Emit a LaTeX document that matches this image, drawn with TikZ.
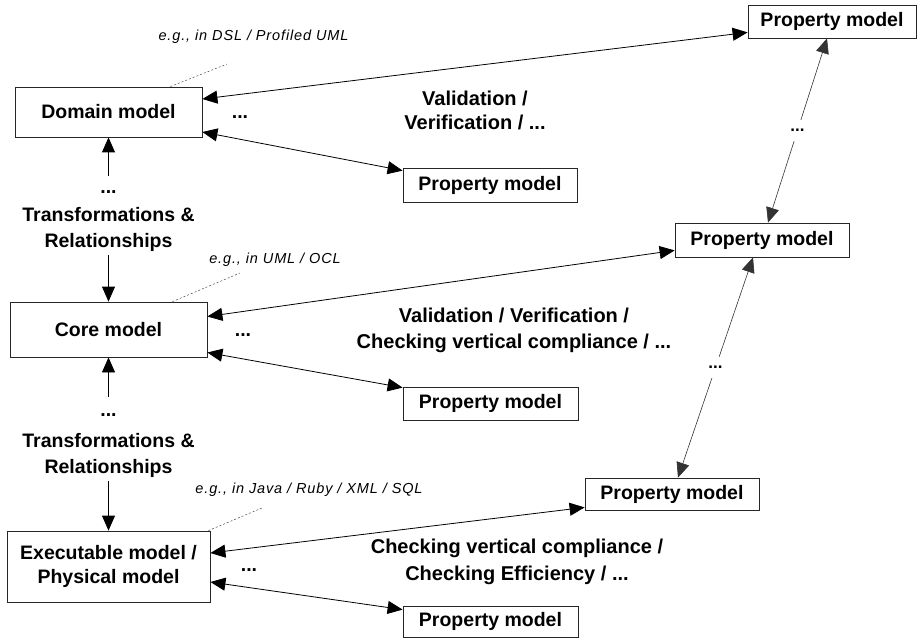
\documentclass[tikz,border=0pt]{standalone}
\usepackage{fontspec}
\setmainfont{Liberation Sans}
\usetikzlibrary{arrows.meta,calc}
\tikzset{
  box/.style={draw=black!85, line width=0.8pt, fill=white, align=center, inner sep=0pt,
    font=\fontsize{19.5}{25}\selectfont\bfseries},
  lbl/.style={align=center, inner sep=0pt, font=\fontsize{19.5}{26}\selectfont\bfseries},
  note/.style={inner sep=0pt, font=\fontsize{14.5}{17}\selectfont\itshape\addfontfeature{LetterSpace=6}},
  tip/.tip={Triangle[length=15pt,width=13pt]},
  conn/.style={line width=0.8pt, tip-tip},
  vconn/.style={line width=0.6pt, draw=black!80, tip-tip},
  single/.style={line width=0.8pt, -tip},
  leader/.style={draw=black!70, line width=0.5pt, dash pattern=on 2pt off 2pt},
  gapdots/.style={fill=white, inner xsep=2pt, inner ysep=9pt, font=\fontsize{17}{20}\selectfont\bfseries}
}
\begin{document}
\begin{tikzpicture}[x=1pt,y=-1pt]
\useasboundingbox[fill=white] (0,0) rectangle (918,639);

% model boxes
\node[box, minimum width=187pt, minimum height=50pt] (dom) at (108.5,112) {Domain model};
\node[box, minimum width=197pt, minimum height=55pt] (core) at (108.5,329.5) {Core model};
\node[box, minimum width=203pt, minimum height=71pt] (exec) at (108.5,566.5) {Executable model /\\[-1pt]Physical model};

% property models
\node[box, minimum width=168pt, minimum height=33pt] (pm1) at (832,21.5) {Property model};
\node[box, minimum width=174pt, minimum height=34pt] (pm2) at (490,185) {Property model};
\node[box, minimum width=174pt, minimum height=34pt] (pm3) at (762,240) {Property model};
\node[box, minimum width=175pt, minimum height=33pt] (pm4) at (490.5,403.5) {Property model};
\node[box, minimum width=174pt, minimum height=32pt] (pm5) at (672,494) {Property model};
\node[box, minimum width=175pt, minimum height=31pt] (pm6) at (490.5,621.5) {Property model};

% left transformation labels
\node[lbl] (d1) at (108.5,192) {...};
\node[lbl] (t1) at (108.5,229) {Transformations \&\\Relationships};
\node[lbl] (d2) at (108.5,415) {...};
\node[lbl] (t2) at (108.5,455) {Transformations \&\\Relationships};

\draw[single] ([yshift=14pt]d1.north) -- (dom.south);
\draw[single] ([yshift=-4pt]t1.south) -- (core.north);
\draw[single] ([yshift=16pt]d2.north) -- (core.south);
\draw[single] ([yshift=-4pt]t2.south) -- (exec.north);

% annotations
\node[note] (n1) at (253.5,37) {e.g., in DSL / Profiled UML};
\node[note] (n2) at (275,260) {e.g., in UML / OCL};
\node[note] (n3) at (309,490) {e.g., in Java / Ruby / XML / SQL};
\coordinate (c1) at (227,64);
\coordinate (c2) at (240,273);
\coordinate (c3) at (262,508);
\draw[leader] ([xshift=-32pt]dom.north east) -- (c1);
\draw[leader] ([xshift=-35pt]core.north east) -- (c2);
\draw[leader] ([xshift=-2pt]exec.north east) -- (c3);

% horizontal connectors
\draw[conn] ([yshift=13pt]dom.east) -- ([yshift=6pt]pm1.south west);
\draw[conn] ([yshift=-20pt]dom.east) -- ([yshift=-3pt]pm2.north west);
\draw[conn] ([yshift=13pt]core.east) -- ([yshift=7pt]pm3.south west);
\draw[conn] ([yshift=-23pt]core.east) -- ([yshift=-1pt]pm4.north west);
\draw[conn] ([yshift=13.5pt]exec.east) -- ([yshift=3pt]pm5.south west);
\draw[conn] ([yshift=-15.5pt]exec.east) -- ([yshift=-4pt]pm6.north west);

% dots next to models
\node[lbl] (e1) at (240,117) {...};
\node[lbl] (e2) at (243,335) {...};
\node[lbl] (e3) at (249,570) {...};

% middle labels
\node[lbl, font=\fontsize{20}{24}\selectfont\bfseries] (v1) at (475,110) {Validation /\\Verification / ...};
\node[lbl, font=\fontsize{20}{26}\selectfont\bfseries] (v2) at (514,330) {Validation / Verification /\\Checking vertical compliance / ...};
\node[lbl, font=\fontsize{20}{27}\selectfont\bfseries] (v3) at (517,562) {Checking vertical compliance /\\Checking Efficiency / ...};

% right vertical connectors
\draw[vconn] ([xshift=-5pt]pm1.south) -- ([xshift=6pt]pm3.north) node[midway, gapdots] (g1) {...};
\draw[vconn] ([xshift=-9pt]pm3.south) -- ([xshift=6pt]pm5.north) node[midway, gapdots] (g2) {...};
\end{tikzpicture}
\end{document}
